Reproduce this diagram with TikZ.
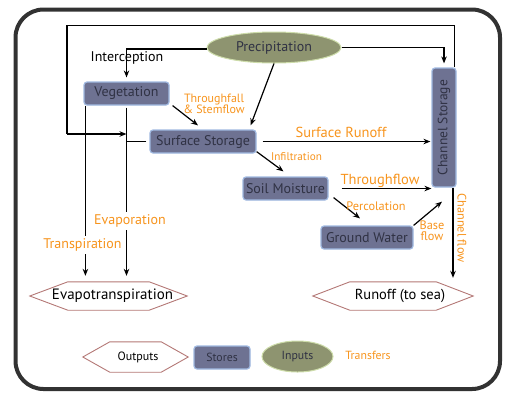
\documentclass[tikz,border=0pt]{standalone}
\usepackage{fontspec}
\setmainfont{PT Sans}
\usetikzlibrary{arrows.meta,calc,shapes.geometric}
\definecolor{boxfill}{RGB}{110,114,146}
\definecolor{boxline}{RGB}{160,185,225}
\definecolor{boxtext}{RGB}{48,50,68}
\definecolor{ellfill}{RGB}{142,148,112}
\definecolor{ellline}{RGB}{205,220,170}
\definecolor{orng}{RGB}{247,148,29}
\definecolor{hexline}{RGB}{180,120,118}
\definecolor{framecol}{RGB}{50,50,50}
\newcommand\drawhex[2]{%
  \draw[hexstyle] (#1.west) -- ([xshift=#2]#1.north west) -- ([xshift=-#2]#1.north east)
    -- (#1.east) -- ([xshift=-#2]#1.south east) -- ([xshift=#2]#1.south west) -- cycle;}
\begin{document}
\begin{tikzpicture}[x=1pt,y=-1pt,
  fs/.style={font=\fontsize{#1}{#1}\selectfont},
  store/.style={draw=boxline, line width=1.2pt, fill=boxfill, rounded corners=3pt,
    text=boxtext, fs=14, inner sep=0pt, minimum height=23pt},
  inputstyle/.style={ellipse, draw=ellline, line width=1pt, fill=ellfill, text=boxtext,
    fs=14, inner sep=0pt},
  hexbox/.style={inner sep=0pt, minimum height=28pt},
  hexstyle/.style={draw=hexline, line width=0.9pt, fill=white},
  transfer/.style={text=orng, inner sep=1pt},
  ln/.style={line width=1.2pt, draw=black},
  arr/.style={ln, -{Stealth[length=7pt,width=5.5pt]}},
  gaplabel/.style={transfer, fill=white, inner sep=3pt, fs=14}]
\useasboundingbox (0,0) rectangle (505,392);
\draw[framecol, line width=4pt, rounded corners=28pt] (15.5,9.5) rectangle (500,389);

% stores and inputs
\node[inputstyle, minimum width=134pt, minimum height=31pt] (prec) at (274,47.5) {Precipitation};
\node[store, minimum width=85pt] (veg) at (126.5,93.5) {Vegetation};
\node[store, minimum width=106pt] (surf) at (203,141.5) {Surface Storage};
\node[store, minimum width=85pt] (soil) at (285.5,188.5) {Soil Moisture};
\node[store, minimum width=92pt] (gw) at (367,237.5) {Ground Water};
\node[store, minimum width=24pt, minimum height=119pt] (chan) at (444,127.5) {};
\node[rotate=90, text=boxtext, fs=13.5, inner sep=0pt] (chantext) at (chan.center) {Channel Storage};

% outputs
\node[hexbox, minimum width=157pt] (evt) at (108.5,296) {};
\drawhex{evt}{38pt}
\node[fs=15, inner sep=0pt] (evttext) at (112.5,296) {Evapotranspiration};
\node[hexbox, minimum width=160pt] (run) at (393,296) {};
\drawhex{run}{37pt}
\node[fs=14.5, inner sep=0pt] (runtext) at (400,296) {Runoff (to sea)};

% coordinates of the loop
\coordinate (lt) at (67,25.5);
\coordinate (lb) at (67,134);
\coordinate (ej) at (126.5,134);
\coordinate (sj) at (126.5,141.5);

% connectors
\draw[ln] ([xshift=-2pt]chan.north east) |- (lt) -- (lb);
\draw[arr] (lb) -- (ej);
\draw[arr, shorten >=4pt] ([yshift=-1.5pt]prec.west) -| (veg.north);
\draw[arr, shorten >=4pt] (prec.east) -| (chan.north);
\draw[arr] (prec.south) -- ([xshift=-6pt,yshift=4pt]surf.north east);
\draw[arr] ([xshift=3pt]veg.south east) -- ([xshift=-5pt,yshift=4pt]surf.north);
\draw[ln, shorten <=3pt] (surf.west) -- (sj);
\draw[arr, shorten <=2pt, shorten >=6pt] (veg.south) -- (veg.south |- evt.north);
\draw[arr, shorten >=6pt] ([xshift=2pt]veg.south west) -- ([xshift=2pt]veg.south west |- evt.north);
\draw[arr, shorten <=6pt, shorten >=1pt] (surf.east) -- (surf.east -| chan.west);
\draw[arr] ([yshift=2pt]surf.south east) -- ([xshift=-2pt,yshift=5pt]soil.north);
\draw[arr, shorten <=13pt] (soil.east) -- (soil.east -| chan.west);
\draw[arr] ([xshift=5pt,yshift=3pt]soil.south east) -- ([xshift=-7pt,yshift=7pt]gw.north);
\draw[arr] (gw.north east) -- ([xshift=-2pt,yshift=-14pt]chan.south);
\draw[arr, shorten >=4pt] ([xshift=9pt]chan.south) -- ([xshift=9pt]chan.south |- run.north);

% labels
\node[fs=14, inner sep=1pt] (intercept) at (127,57.5) {Interception};
\node[transfer, fs=12, align=center] (thrufall) at (214,104) {Throughfall\\[-1pt]\& Stemflow};
\node[transfer, fs=14.5] (surfrun) at (341,132) {Surface Runoff};
\node[transfer, fs=11.2] (infil) at (296.5,157) {Infiltration};
\node[transfer, fs=14.5] (thruflow) at (380,181) {Throughflow};
\node[transfer, fs=12.3] (perc) at (376,206) {Percolation};
\node[transfer, fs=12.3, align=center] (baseflow) at (432,231) {Base\\[-1pt]flow};
\node[transfer, fs=12.3, rotate=-90] (chanflow) at (462,228) {Channel flow};
\node[gaplabel] (evap) at (130,221) {Evaporation};
\node[gaplabel] (transp) at (82.5,245) {Transpiration};

% legend
\node[hexbox, minimum width=105pt, minimum height=30pt] (outp) at (135.5,357) {};
\drawhex{outp}{27pt}
\node[fs=12, inner sep=0pt] (outptext) at (138,357) {Outputs};
\node[store, fs=11.8, minimum width=56pt] (stores) at (222,357.5) {Stores};
\node[inputstyle, fs=11.8, minimum width=71pt, minimum height=31pt] (inputs) at (297.5,356.5) {Inputs};
\node[transfer, fs=11.8] (transfers) at (368,355) {Transfers};
\end{tikzpicture}
\end{document}
